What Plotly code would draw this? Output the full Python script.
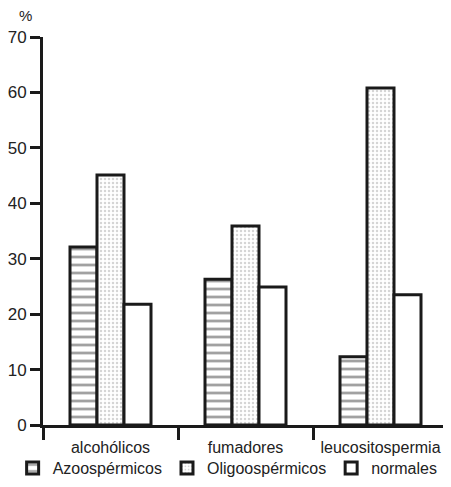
import plotly.graph_objects as go

categories = ["alcohólicos", "fumadores", "leucositospermia"]
azoospermicos = [32.1, 26.3, 12.3]
oligospermicos = [45.1, 35.9, 60.8]
normales = [21.8, 24.9, 23.5]
y_ticks = [0, 10, 20, 30, 40, 50, 60, 70]

FONT = "Liberation Sans Narrow, Arial Narrow, Liberation Sans, sans-serif"

fig = go.Figure()
fig.add_trace(go.Bar(
    name="Azoospérmicos", x=categories, y=azoospermicos,
    marker=dict(color="white", line=dict(color="#1a1a1a", width=3),
                pattern=dict(shape="-", fgcolor="#444444", bgcolor="white",
                             size=8, solidity=0.35)),
))
fig.add_trace(go.Bar(
    name="Oligoospérmicos", x=categories, y=oligospermicos,
    marker=dict(color="white", line=dict(color="#1a1a1a", width=3),
                pattern=dict(shape=".", fgcolor="#aaaaaa", bgcolor="white",
                             size=4, solidity=0.3)),
))
fig.add_trace(go.Bar(
    name="normales", x=categories, y=normales,
    marker=dict(color="white", line=dict(color="#1a1a1a", width=3)),
))

fig.update_layout(
    width=443, height=479,
    margin=dict(l=35, r=3, t=29, b=62, autoexpand=False),
    paper_bgcolor="white", plot_bgcolor="white",
    barmode="group", bargap=0.4, bargroupgap=0,
    font=dict(family=FONT, size=16, color="#222222"),
    showlegend=True,
    legend=dict(orientation="h", x=-0.075, y=-0.111, xanchor="left", yanchor="middle",
                font=dict(family=FONT, size=16, color="#222222"),
                itemwidth=30, tracegroupgap=0, traceorder="normal",
                bgcolor="rgba(0,0,0,0)"),
    xaxis=dict(
        automargin=False,
        showline=True, linecolor="#1a1a1a", linewidth=3,
        ticks="outside", tickson="boundaries", ticklen=12, tickwidth=3,
        tickcolor="#1a1a1a", showgrid=False, zeroline=False,
        ticklabelstandoff=6,
        tickfont=dict(family=FONT, size=16, color="#222222"),
    ),
    yaxis=dict(
        automargin=False,
        range=[0, 70], tickvals=y_ticks, ticktext=[str(v) for v in y_ticks],
        showline=True, linecolor="#1a1a1a", linewidth=3,
        ticks="outside", ticklen=10, tickwidth=3, tickcolor="#1a1a1a",
        showgrid=False, zeroline=False,
        tickfont=dict(family=FONT, size=17, color="#222222"),
    ),
    annotations=[dict(text="%", xref="paper", yref="paper", x=-0.065, y=1.0,
                      yshift=22, xanchor="left", yanchor="middle", showarrow=False,
                      font=dict(family=FONT, size=15, color="#222222"))],
)

fig.write_html("out.html")
